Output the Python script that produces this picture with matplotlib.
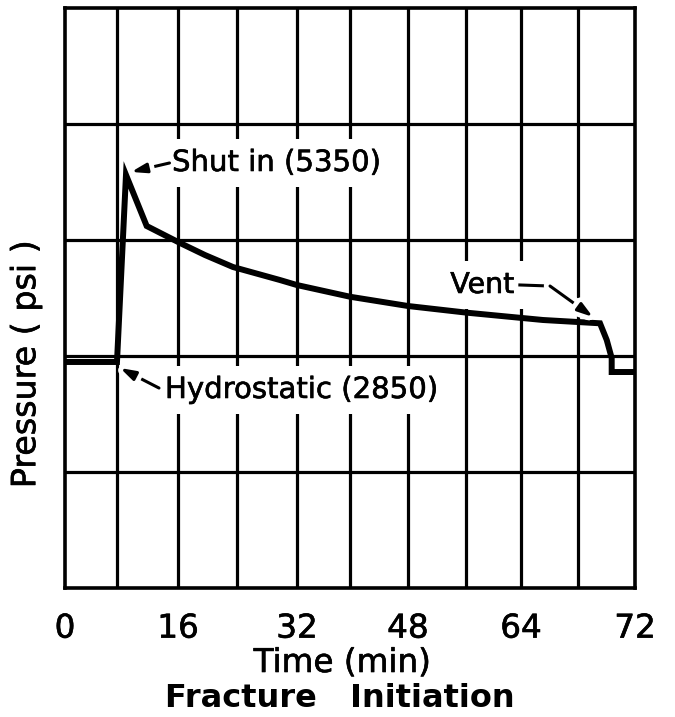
import matplotlib
matplotlib.use("Agg")
import matplotlib.pyplot as plt
import numpy as np
from matplotlib import patheffects

# Chart grid: x in chart divisions, y in psi
GRID_X = [0, 0.912, 1.982, 3.018, 4.070, 5.0, 6.018, 7.035, 8.0, 9.0, 10]
TICK_LABELS = ["0", "16", "32", "48", "64", "72"]
Y_LIM = (-170, 7580)

# Pressure record
time_div = [0, 0.912, 1.070, 1.433, 2.018, 2.456, 2.947, 3.772, 4.065,
            5.0, 6.018, 7.047, 8.386, 9.386, 9.504, 9.591, 9.591, 10]
pressure_psi = [2850, 2850, 5350, 4667, 4440, 4279, 4119, 3945, 3879,
                3722, 3598, 3509, 3411, 3367, 3144, 2903, 2716, 2716]

SHUT_IN_PSI = 5350
HYDROSTATIC_PSI = 2850

FONT = "DejaVu Sans"
# pen-lettering look: regular glyphs with a thin black outline
ink = [patheffects.withStroke(linewidth=0.45, foreground="black")]

fig = plt.figure(figsize=(6.75, 7.17), dpi=100)
ax = fig.add_axes([65 / 675, 1 - 588 / 717, 570 / 675, 580 / 717])
ax.set_xlim(GRID_X[0], GRID_X[-1])
ax.set_ylim(*Y_LIM)

# hand-drawn style grid
grid_y = np.linspace(Y_LIM[0], Y_LIM[1], 6)
ax.vlines(GRID_X[1:-1], Y_LIM[0], Y_LIM[1], color="black", lw=2.3, zorder=1)
ax.hlines(grid_y[1:-1], GRID_X[0], GRID_X[-1], color="black", lw=2.3, zorder=1)
for sp in ax.spines.values():
    sp.set_linewidth(2.6)
    sp.set_zorder(5)

ax.plot(time_div, pressure_psi, color="black", lw=4.3,
        solid_joinstyle="miter", solid_capstyle="butt", zorder=3)

ax.set_xticks(GRID_X[::2])
ax.set_xticklabels(TICK_LABELS, fontsize=23.5, family=FONT, path_effects=ink)
ax.set_yticks([])
ax.tick_params(axis="x", length=0, pad=17)

ax.set_xlabel("Time (min)", fontsize=23.5, family=FONT, path_effects=ink)
ax.xaxis.set_label_coords(0.486, -0.10)
ax.text(0.482, -0.191, "Fracture   Initiation", transform=ax.transAxes,
        ha="center", va="center", fontsize=23, family=FONT, fontweight="bold")
ax.set_ylabel("Pressure ( psi )", fontsize=24, family=FONT, path_effects=ink)
ax.yaxis.set_label_coords(-0.040, 0.386)

box = dict(facecolor="white", edgecolor="none", pad=7)
halo = [patheffects.withStroke(linewidth=9, foreground="white")]
arrow = dict(arrowstyle="-|>,head_length=0.9,head_width=0.28", lw=2.2,
             color="black", shrinkA=0, shrinkB=0, path_effects=halo)

# annotations
ax.text(1.877, 5509, f"Shut in ({SHUT_IN_PSI})", fontsize=21, family=FONT,
        ha="left", va="center", bbox=box, zorder=2, path_effects=ink)
ax.annotate("", xy=(1.158, 5389), xytext=(1.833, 5509), arrowprops=arrow,
            zorder=4)

ax.text(1.754, 2476, f"Hydrostatic ({HYDROSTATIC_PSI})", fontsize=21,
        family=FONT, ha="left", va="center", bbox=box, zorder=2,
        path_effects=ink)
ax.annotate("", xy=(0.965, 2770), xytext=(1.649, 2502), arrowprops=arrow,
            zorder=4)

ax.text(6.76, 3879, "Vent", fontsize=20.5, family=FONT,
        ha="left", va="center", bbox=box, zorder=2, path_effects=ink)
ax.plot([7.98, 8.509], [3879, 3865], color="black", lw=2.2, zorder=4)
ax.annotate("", xy=(9.263, 3451), xytext=(8.509, 3865), arrowprops=arrow,
            zorder=4)

fig.savefig("out.png", dpi=100)
